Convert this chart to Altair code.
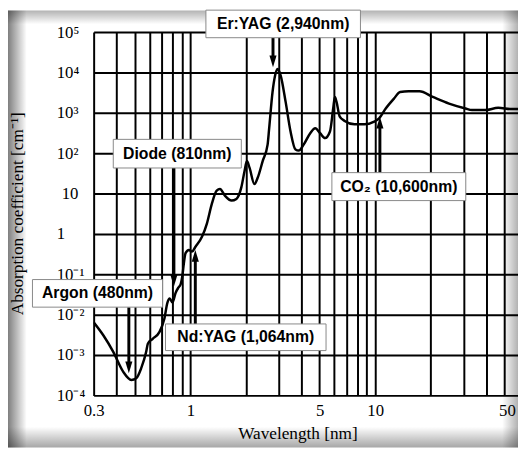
import altair as alt
import pandas as pd
import math

# ---- absorption curve (wavelength as on the axis, absorption coefficient cm^-1)
wavelength = [0.300, 0.339, 0.383, 0.433, 0.480, 0.510, 0.542, 0.577, 0.589, 0.626,
              0.680, 0.723, 0.752, 0.774, 0.800, 0.833, 0.861, 0.886, 0.905, 0.923,
              0.942, 0.982, 1.022, 1.064, 1.156, 1.229, 1.307, 1.389, 1.447, 1.538,
              1.670, 1.775, 1.887, 1.965, 2.024, 2.090, 2.222, 2.316, 2.462, 2.618,
              2.670, 2.784, 2.874, 2.960, 3.081, 3.277, 3.484, 3.705, 3.858, 4.102,
              4.452, 4.736, 5.035, 5.353, 5.692, 5.925, 6.051, 6.177, 6.431, 6.837,
              7.731, 8.738, 9.879, 10.50, 11.40, 12.63, 13.64, 15.17, 17.36, 20.49,
              25.08, 30.78, 33.38, 39.35, 46.30, 54.50, 59.2]
absorption = [0.00649, 0.00305, 0.00120, 0.000388, 0.000242, 0.000266, 0.000468, 0.00120, 0.00191, 0.00253,
              0.00369, 0.00780, 0.0200, 0.0251, 0.0200, 0.0351, 0.0465, 0.0560, 0.0893, 0.190,
              0.334, 0.402, 0.365, 0.475, 0.849, 1.81, 5.57, 11.8, 12.9, 8.89,
              6.70, 7.38, 14.2, 36.3, 63.7, 43.7, 17.2, 24.9, 63.7, 163,
              416, 3281, 8395, 12190, 8395, 1866, 345, 123, 116, 163,
              313, 416, 313, 237, 345, 1282, 2477, 1866, 804, 631,
              520, 520, 606, 730, 1282, 2251, 3281, 3412, 3412, 2477,
              1698, 1282, 1169, 1169, 1334, 1239, 1239]
assert len(wavelength) == len(absorption)

# ---- axes
x_grid = [0.3, 0.4, 0.5, 0.6, 0.7, 0.8, 0.9, 1, 2, 3, 4, 5, 6, 7, 8, 9, 10, 20, 30, 40, 50]
x_tick_values = [0.3, 1, 5, 10, 50]
x_tick_labels = ["0.3", "1", "5", "10", "50"]
y_grid = [1e-4, 1e-3, 1e-2, 1e-1, 1, 10, 1e2, 1e3, 1e4, 1e5]
y_exponents = [-4, -3, -2, -1, 0, 1, 2, 3, 4, 5]
y_tick_labels = ["10⁻⁴", "10⁻³", "10⁻²", "10⁻¹", "\u20071", "10", "10²", "10³", "10⁴", "10⁵"]

# ---- laser annotations
labels = ["Er:YAG (2,940nm)", "Diode (810nm)", "Argon (480nm)", "Nd:YAG (1,064nm)", "CO₂ (10,600nm)"]
box_left = [1.214, 0.383, 0.140, 0.734, 5.83]
box_right = [8.32, 1.887, 0.708, 5.42, 30.9]
box_low = [7.26e4, 43, 0.01535, 0.00129, 6.70]
box_high = [3.5e5, 220, 0.0741, 0.00589, 33.0]
arrow_x = [2.8, 0.815, 0.465, 1.064, 10.6]
arrow_tip = [13400, 0.05, 0.000353, 0.402, 804]

curve = pd.DataFrame({"w": wavelength, "a": absorption})

rows = []
for i, lab in enumerate(labels):
    down = arrow_tip[i] < box_low[i]
    rows.append({
        "label": lab,
        "x1": box_left[i], "x2": box_right[i],
        "y1": box_low[i], "y2": box_high[i],
        "tx": math.sqrt(box_left[i] * box_right[i]),
        "ty": math.sqrt(box_low[i] * box_high[i]),
        "ax": arrow_x[i],
        # arrows leave from the box edge that faces the curve
        "from": box_low[i] if down else box_high[i],
        "tip": arrow_tip[i],
        "shaft_end": arrow_tip[i] * (1.5 if down else 1 / 1.5),
        "dir": "down" if down else "up",
    })
annot = pd.DataFrame(rows)

SERIF = "Liberation Serif"
SANS = "Liberation Sans"

label_expr_x = " : ".join(
    f"datum.value == {v} ? '{t}'" for v, t in zip(x_tick_values, x_tick_labels)
) + " : ''"
label_expr_y = " : ".join(
    f"round(log(datum.value) / LN10) == {e} ? '{t}'" for e, t in zip(y_exponents, y_tick_labels)
) + " : ''"

xscale = alt.Scale(type="log", domain=[0.3, 59.2], nice=False, zero=False)
yscale = alt.Scale(type="log", domain=[1e-4, 1e5], nice=False, zero=False)

xaxis = alt.Axis(
    values=x_grid, labelExpr=label_expr_x, grid=True, gridColor="black", gridWidth=2,
    gridOpacity=1, ticks=False, tickSize=0, domain=False, labelFont=SERIF, labelFontSize=17,
    labelColor="black", labelPadding=7, labelFlush=False, labelOverlap=False,
    labelAlign={"condition": {"test": "datum.value == 50", "value": "left"}, "value": "center"},
    labelOffset={"condition": {"test": "datum.value == 50", "value": -6}, "value": 0},
    title="Wavelength [nm]", titleFont=SERIF, titleFontSize=17.5, titleFontWeight="normal",
    titleColor="black", titleX=207, titleY=39, titleAlign="center", titleBaseline="middle",
)
yaxis = alt.Axis(
    values=y_grid, labelExpr=label_expr_y, grid=True, gridColor="black", gridWidth=2,
    gridOpacity=1, ticks=False, tickSize=0, domain=False, labelFont=SERIF, labelFontSize=17,
    labelColor="black", labelAlign="left", labelBaseline="middle", labelFlush=False,
    labelOverlap=False,
    labelPadding={"condition": {"test": "datum.value == 10", "value": 33}, "value": 38},
    title="Absorption coefficient [cm⁻¹]", titleFont=SERIF, titleFontSize=17.5,
    titleFontWeight="normal", titleColor="black", titleX=-77, titleY=184, titleAngle=-90,
    titleAlign="center", titleBaseline="middle",
)


def X(field):
    return alt.X(field, type="quantitative", scale=xscale, axis=xaxis)


def Y(field):
    return alt.Y(field, type="quantitative", scale=yscale, axis=yaxis)


one = alt.Data(values=[{"k": 1}])


def shade(x, x2, y, y2, horizontal, dark_first, alpha):
    dark = f"rgba(0,0,0,{alpha})"
    clear = "rgba(0,0,0,0)"
    stops = [alt.GradientStop(color=dark if dark_first else clear, offset=0),
             alt.GradientStop(color=clear if dark_first else dark, offset=1)]
    grad = alt.LinearGradient(gradient="linear", stops=stops,
                              x1=0, y1=0, x2=1 if horizontal else 0, y2=0 if horizontal else 1)
    return alt.Chart(one).mark_rect(color=grad).encode(
        x=alt.value(x), x2=alt.value(x2), y=alt.value(y), y2=alt.value(y2))


# soft shadowed frame around the figure
frame = [
    shade(-87, -68, -22, 422, True, True, 0.5),
    shade(-87, 431, -22, -8, False, True, 0.3),
    shade(-87, 431, 401, 422, False, False, 0.35),
    shade(415, 431, -22, 422, True, False, 0.3),
]

line = alt.Chart(curve).mark_line(
    color="black", strokeWidth=2.5, interpolate="monotone", clip=True
).encode(x=X("w"), y=Y("a"))

shafts = alt.Chart(annot).mark_rule(color="black", strokeWidth=3).encode(
    x=X("ax"), y=Y("from"), y2="shaft_end:Q")

heads = alt.Chart(annot).mark_point(filled=True, color="black", opacity=1, size=64).encode(
    x=X("ax"), y=Y("tip"),
    shape=alt.Shape("dir:N", scale=alt.Scale(
        domain=["down", "up"],
        range=["M0,0L-0.9,-3L0.9,-3Z", "M0,0L-0.9,3L0.9,3Z"]), legend=None))

boxes = alt.Chart(annot).mark_rect(fill="white", stroke="#888888", strokeWidth=1).encode(
    x=X("x1"), x2="x2:Q", y=Y("y1"), y2="y2:Q")

texts = alt.Chart(annot).mark_text(
    font=SANS, fontWeight="bold", fontSize=16, color="black", align="center", baseline="middle"
).encode(x=X("tx"), y=Y("ty"), text="label:N")

chart = alt.layer(*frame, line, shafts, heads, boxes, texts).properties(
    width=431, height=369,
    autosize=alt.AutoSizeParams(type="none"),
    padding={"left": 87, "top": 21, "right": 0, "bottom": 53},
    background="white",
).configure_view(stroke=None)

chart.save("out.html", embed_options={"renderer": "svg", "actions": False})
